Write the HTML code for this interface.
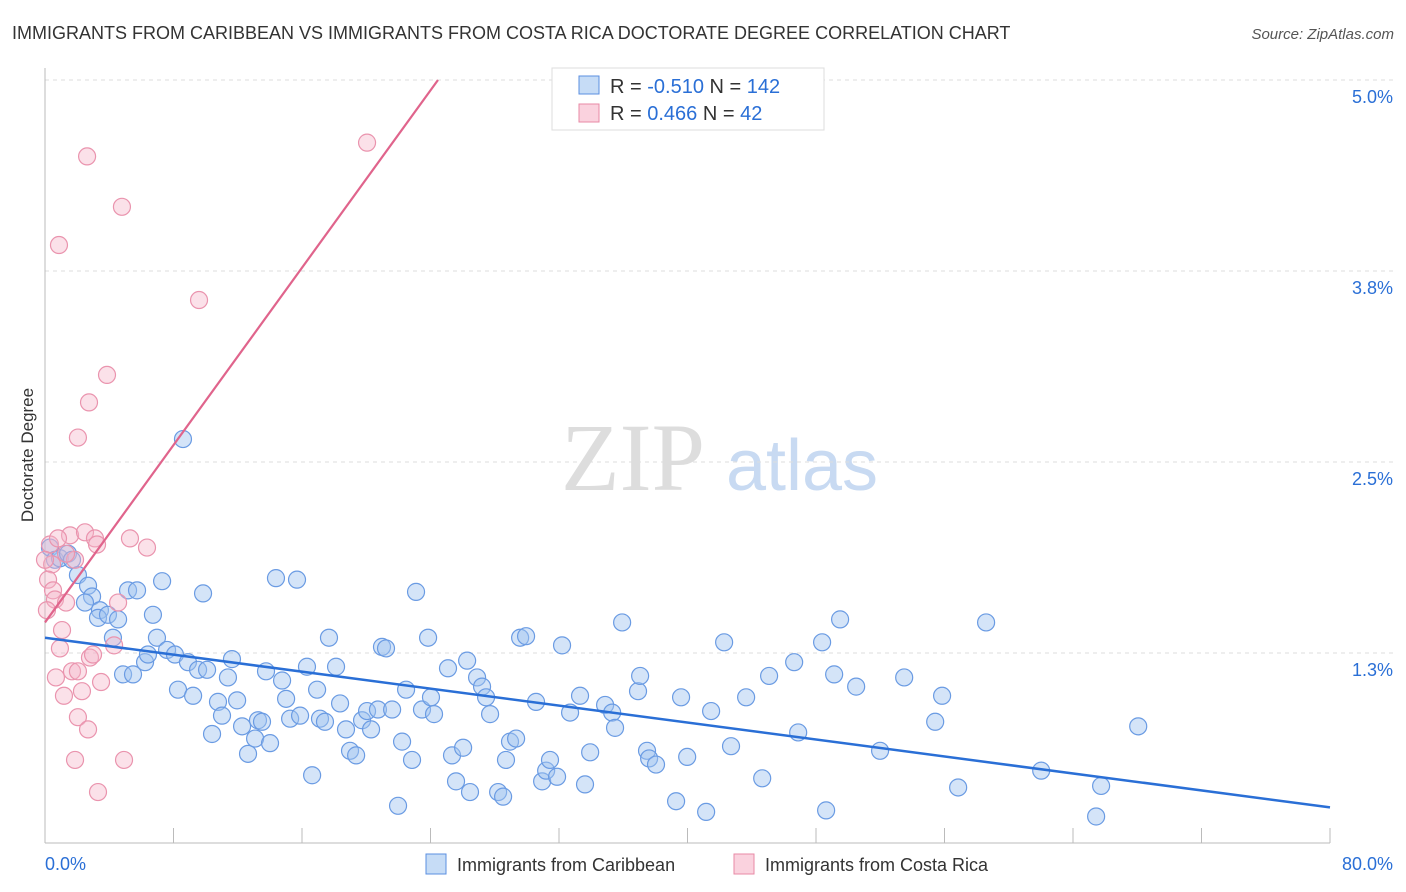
<!DOCTYPE html>
<html><head><meta charset="utf-8">
<style>
body{margin:0;background:#fff;font-family:"Liberation Sans",sans-serif;}
svg{display:block}
</style></head>
<body>
<svg id="chart" width="1406" height="892">
<text x="12" y="39" font-size="18" fill="#333">IMMIGRANTS FROM CARIBBEAN VS IMMIGRANTS FROM COSTA RICA DOCTORATE DEGREE CORRELATION CHART</text>
<text x="1394" y="39" font-size="15" fill="#555" font-style="italic" text-anchor="end">Source: ZipAtlas.com</text>
<g>
<text x="633" y="490" font-size="96" fill="#ddd" text-anchor="middle" font-family="Liberation Serif,serif">ZIP</text>
<text x="802" y="490" font-size="72" fill="#c8daf2" text-anchor="middle">atlas</text>
</g>
<g id="grid"></g>
<g id="axes"></g>
<g id="pts"></g>
<g id="lines"></g>
<text transform="translate(33,455) rotate(-90)" font-size="17" fill="#333" text-anchor="middle">Doctorate Degree</text>
<g>
<rect x="552" y="68" width="272" height="62" fill="#fff" stroke="#ddd"/>
<rect x="579" y="76" width="20" height="18" fill="rgba(160,196,240,0.6)" stroke="#5b8fe0"/>
<rect x="579" y="104" width="20" height="18" fill="rgba(246,180,200,0.6)" stroke="#e88aa6"/>
<text x="610" y="93" font-size="20" fill="#333">R = <tspan fill="#2a6fd6">-0.510</tspan>   N = <tspan fill="#2a6fd6">142</tspan></text>
<text x="610" y="120" font-size="20" fill="#333">R =  <tspan fill="#2a6fd6">0.466</tspan>   N =  <tspan fill="#2a6fd6">42</tspan></text>
</g>
<g>
<rect x="426" y="854" width="20" height="20" fill="rgba(160,196,240,0.6)" stroke="#5b8fe0"/>
<text x="457" y="871" font-size="18" fill="#333">Immigrants from Caribbean</text>
<rect x="734" y="854" width="20" height="20" fill="rgba(246,180,200,0.6)" stroke="#e88aa6"/>
<text x="765" y="871" font-size="18" fill="#333">Immigrants from Costa Rica</text>
</g>
</svg>
<script>
const yTicks=[5.0,3.75,2.5,1.25];
const yTickLabels=["5.0%","3.8%","2.5%","1.3%"];
const xTickVals=[0,8,16,24,32,40,48,56,64,72,80];
const xEndLabels=["0.0%","80.0%"];
const blueX=[.31,.62,.93,1.43,1.68,2.05,2.68,2.93,2.49,3.42,3.30,3.92,4.55,4.23,5.17,5.73,4.86,5.48,6.23,6.41,6.72,6.97,7.29,7.60,8.09,8.28,8.59,8.90,9.22,9.53,9.84,10.09,10.40,10.77,11.02,11.39,11.64,11.96,12.27,12.64,13.08,13.26,13.51,13.76,14.01,14.38,14.76,15.01,15.26,15.69,15.88,16.31,16.63,16.94,17.12,17.43,17.68,18.12,18.37,18.74,18.99,19.37,19.74,20.05,20.30,20.73,20.98,21.23,21.61,21.98,22.23,22.48,22.85,23.10,23.47,23.85,24.03,24.22,25.09,25.34,25.59,26.03,26.28,26.46,26.90,27.21,27.46,27.71,28.21,28.52,28.70,28.95,29.33,29.58,29.95,30.57,30.95,31.20,31.44,31.88,32.19,32.69,33.31,33.62,33.94,34.87,35.31,35.49,35.93,36.92,37.05,37.48,37.61,38.04,39.29,39.60,39.98,41.16,41.47,42.28,42.71,43.65,44.65,45.08,46.64,46.89,48.38,48.63,49.13,49.50,50.50,51.99,53.49,55.42,55.85,56.85,58.59,62.02,65.44,65.75,68.06];
const blueY=[1.94,1.86,1.87,1.90,1.86,1.76,1.69,1.62,1.58,1.53,1.48,1.50,1.47,1.35,1.66,1.66,1.11,1.11,1.19,1.24,1.50,1.35,1.72,1.27,1.24,1.01,2.65,1.19,.97,1.14,1.64,1.14,.72,.93,.84,1.09,1.21,.94,.77,.59,.69,.81,.80,1.13,.66,1.74,1.07,.95,.82,1.73,.84,1.16,.45,1.01,.82,.80,1.35,1.16,.92,.75,.61,.58,.81,.87,.75,.88,1.29,1.28,.88,.25,.67,1.01,.55,1.65,.88,1.35,.96,.85,1.15,.58,.41,.63,1.20,.34,1.09,1.03,.96,.85,.34,.31,.55,.67,.69,1.35,1.36,.93,.41,.48,.55,.44,1.30,.86,.97,.39,.60,.91,.86,.76,1.45,1.00,1.10,.61,.56,.52,.28,.96,.57,.21,.87,1.32,.64,.96,.43,1.10,1.19,.73,1.32,.22,1.11,1.47,1.03,.61,1.09,.80,.97,.37,1.45,.48,.18,.38,.77];
const pinkX=[.31,.44,.19,.50,.62,.12,.87,1.06,.93,1.56,1.31,1.87,2.05,2.49,2.74,2.62,2.80,3.11,3.24,3.86,3.49,4.79,4.55,5.29,6.35,9.59,20.05,.68,1.18,1.68,2.05,2.30,2.05,2.68,1.87,4.92,3.30,2.99,4.30,0,.81,1.31];
const pinkY=[1.96,1.83,1.73,1.66,1.60,1.53,3.92,1.40,1.28,2.02,1.58,1.86,2.66,2.04,2.89,4.50,1.22,2.00,1.96,3.07,1.06,4.17,1.58,2.00,1.94,3.56,4.59,1.09,.97,1.13,1.13,1.00,.83,.75,.55,.55,.34,1.24,1.30,1.86,2.00,1.90];
const blueTrend=[1.35,-0.01388];
const pinkTrend=[1.45,0.1451];
const X=v=>45+v*1285/80;
const Y=v=>80+(5-v)*152.8;
const NS="http://www.w3.org/2000/svg";
function mk(tag,attrs,parent){const e=document.createElementNS(NS,tag);for(const k in attrs)e.setAttribute(k,attrs[k]);document.getElementById(parent).appendChild(e);return e;}
yTicks.forEach((t,i)=>{
 const g=mk('line',{x1:45,x2:1395,y1:Y(t),y2:Y(t),stroke:'#ddd','stroke-dasharray':'4,4'},'grid');
 
 
 const l=mk('text',{x:1393,y:Y(t)+23,'font-size':18,fill:'#2a6fd6','text-anchor':'end'},'grid');
 l.textContent=yTickLabels[i];
 
 
});
const ya=mk('line',{x1:45,x2:45,y1:68,y2:843,stroke:'#bbb'},'axes');


const xa=mk('line',{x1:45,x2:1330,y1:843,y2:843,stroke:'#bbb'},'axes');


xTickVals.forEach(t=>{
 const k=mk('line',{x1:X(t),x2:X(t),y1:828,y2:843,stroke:'#bbb'},'axes');
 
 
});
[0,80].forEach((t,i)=>{
 const l=mk('text',{x:i?1393:45,y:870,'font-size':18,fill:'#2a6fd6','text-anchor':i?'end':'start'},'axes');
 l.textContent=xEndLabels[i];
 
 
});
blueX.forEach((x,i)=>{
 const c=mk('circle',{cx:X(x),cy:Y(blueY[i]),r:8.5,fill:'rgba(160,196,240,0.45)',stroke:'#6a9be3','stroke-width':1.2},'pts');
 
 
});
pinkX.forEach((x,i)=>{
 const c=mk('circle',{cx:X(x),cy:Y(pinkY[i]),r:8.5,fill:'rgba(246,180,200,0.4)',stroke:'#ea94ae','stroke-width':1.2},'pts');
 
 
});
const bl=mk('line',{x1:X(0),y1:Y(blueTrend[0]),x2:X(80),y2:Y(blueTrend[0]+blueTrend[1]*80),stroke:'#2a6fd6','stroke-width':2.5},'lines');


const xe=(5-pinkTrend[0])/pinkTrend[1];
const pl=mk('line',{x1:X(0),y1:Y(pinkTrend[0]),x2:X(xe),y2:Y(5),stroke:'#e0648c','stroke-width':2.2},'lines');


</script>
</body></html>
